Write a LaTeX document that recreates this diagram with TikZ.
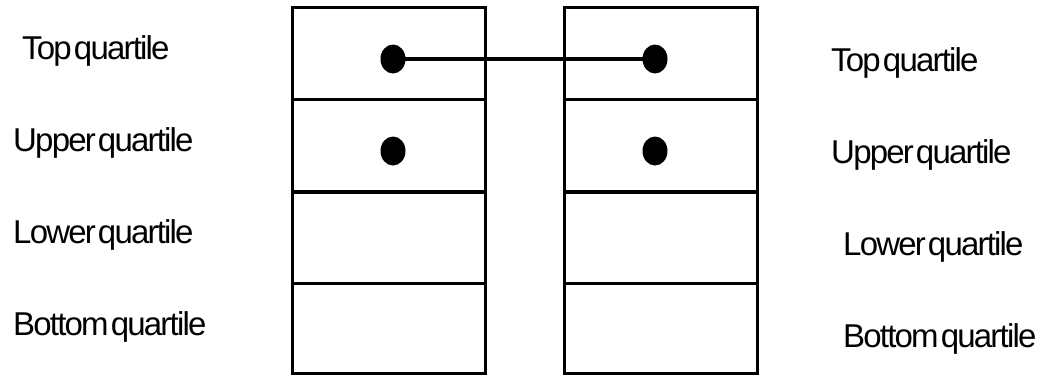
\documentclass[tikz,border=0pt]{standalone}
\usepackage{fontspec}
\usetikzlibrary{shapes.geometric}
\newfontfamily\labfont[LetterSpace=-5.5,WordSpace=0.3]{Liberation Sans}
\begin{document}
\begin{tikzpicture}[x=1pt,y=-1pt,
  cell/.style={draw=black,line width=3pt,rectangle,anchor=north west,inner sep=0pt,outer sep=0pt,minimum width=193pt},
  dot/.style={fill=black,ellipse,inner sep=0pt,minimum width=25pt,minimum height=29pt,draw=none},
  lab/.style={anchor=base west,inner sep=0pt,font=\labfont\fontsize{33}{40}\selectfont}]
\useasboundingbox (0,0) rectangle (1038,375);
% left column
\node[cell,minimum height=92pt] (L1) at (292,7) {};
\node[cell,minimum height=93pt] (L2) at (292,99) {};
\node[cell,minimum height=91pt] (L3) at (292,192) {};
\node[cell,minimum height=90pt] (L4) at (292,283) {};
\draw[line width=4.5pt] (L2.south west) -- (L2.south east);
% right column
\node[cell,minimum height=92pt] (R1) at (564,7) {};
\node[cell,minimum height=93pt] (R2) at (564,99) {};
\node[cell,minimum height=91pt] (R3) at (564,192) {};
\node[cell,minimum height=90pt] (R4) at (564,283) {};
\draw[line width=4.5pt] (R2.south west) -- (R2.south east);
% dots
\node[dot] (d1) at (393,59) {};
\node[dot] (d2) at (655,59) {};
\node[dot] (d3) at (393,151) {};
\node[dot] (d4) at (655,151) {};
\draw[line width=4pt] (d1.center) -- (d2.center);
% left labels
\node[lab] (tl1) at (22,59) {Top quartile};
\node[lab] (tl2) at (13,151) {Upper quartile};
\node[lab] (tl3) at (13,243) {Lower quartile};
\node[lab] (tl4) at (13,335) {Bottom quartile};
% right labels
\node[lab] (tr1) at (831,71) {Top quartile};
\node[lab] (tr2) at (831,163) {Upper quartile};
\node[lab] (tr3) at (843,255) {Lower quartile};
\node[lab] (tr4) at (843,347) {Bottom quartile};
\end{tikzpicture}
\end{document}
